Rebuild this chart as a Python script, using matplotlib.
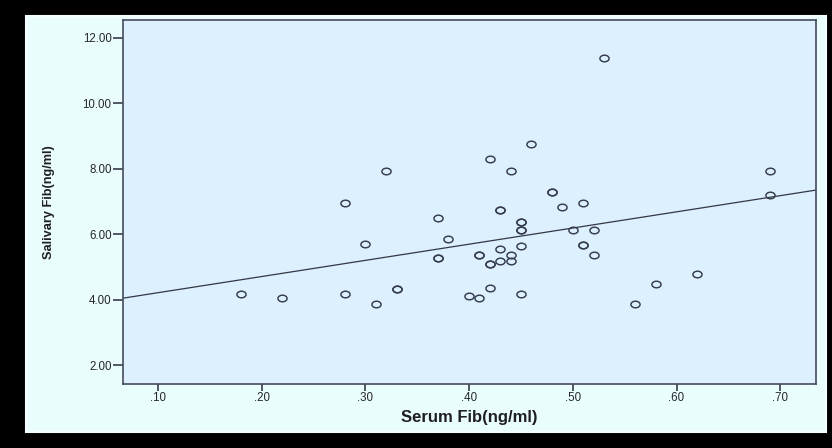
import numpy as np
import matplotlib
matplotlib.use("Agg")
from matplotlib import pyplot as plt
from matplotlib.path import Path
from matplotlib.patches import Rectangle

# Serum vs salivary fibronectin (ng/ml)
serum_fib = [0.18, 0.22, 0.28, 0.28, 0.30, 0.31, 0.32, 0.33, 0.33, 0.37,
             0.37, 0.37, 0.38, 0.40, 0.41, 0.41, 0.41, 0.42, 0.42, 0.42,
             0.42, 0.43, 0.43, 0.43, 0.43, 0.44, 0.44, 0.44, 0.45, 0.45,
             0.45, 0.45, 0.45, 0.45, 0.46, 0.48, 0.48, 0.49, 0.50, 0.51,
             0.51, 0.51, 0.52, 0.52, 0.53, 0.56, 0.58, 0.62, 0.69, 0.69]
salivary_fib = [4.19, 4.07, 6.97, 4.19, 5.71, 3.89, 7.93, 4.33, 4.33, 6.50,
                5.27, 5.27, 5.86, 4.12, 4.07, 5.37, 5.37, 8.31, 4.38, 5.09,
                5.09, 5.55, 5.19, 6.75, 6.75, 7.93, 5.38, 5.19, 6.37, 6.37,
                6.13, 6.13, 5.66, 4.19, 8.76, 7.30, 7.30, 6.85, 6.13, 6.97,
                5.68, 5.68, 6.15, 5.38, 11.38, 3.89, 4.48, 4.79, 7.93, 7.21]

x_ticks = [0.10, 0.20, 0.30, 0.40, 0.50, 0.60, 0.70]
y_ticks = [2.0, 4.0, 6.0, 8.0, 10.0, 12.0]

TEXT_COLOR = "#26262e"
EDGE_COLOR = "#363c4a"


def main():
  plt.rcParams["font.family"] = ["Liberation Sans", "DejaVu Sans"]

  fig = plt.figure(figsize=(8.32, 4.48), dpi=100, facecolor="black")
  # light panel behind the chart, black frame around it
  fig.patches.append(Rectangle((26 / 832, 16 / 448), 800 / 832, 416 / 448,
                               transform=fig.transFigure, facecolor="#eafdfd",
                               edgecolor="#f6ffff", linewidth=1.5, zorder=-5))

  ax = fig.add_axes([0.1475, 0.1429, 0.8333, 0.8125])
  ax.set_facecolor("#dcf0fe")

  circ = Path.unit_circle()
  ellipse = Path(circ.vertices * np.array([1.0, 0.72]), circ.codes)

  x = np.array(serum_fib)
  y = np.array(salivary_fib)
  ax.plot(x, y, linestyle="none", marker=ellipse, markersize=6.6,
          markerfacecolor="none", markeredgecolor=EDGE_COLOR,
          markeredgewidth=1.05, zorder=3)

  # linear fit line across the whole x range
  slope, intercept = np.polyfit(x, y, 1)
  xlim = (0.066, 0.7345)
  xs = np.array(xlim)
  ax.plot(xs, intercept + slope * xs, color="#333842", linewidth=0.9, zorder=2)

  ax.set_xlim(*xlim)
  ax.set_ylim(1.435, 12.55)
  ax.set_xticks(x_ticks)
  ax.set_xticklabels([f"{v:.2f}".lstrip("0") for v in x_ticks])
  ax.set_yticks(y_ticks)
  ax.set_yticklabels([f"{v:.2f}" for v in y_ticks])

  ax.tick_params(axis="x", length=5, width=1.2, color=EDGE_COLOR,
                 labelsize=8.3, labelcolor=TEXT_COLOR, pad=1)
  ax.tick_params(axis="y", length=7, width=1.2, color=EDGE_COLOR,
                 labelsize=8.3, labelcolor=TEXT_COLOR, pad=1)
  for s in ax.spines.values():
    s.set_color("#454b5e")
    s.set_linewidth(1.2)

  ax.set_xlabel("Serum Fib(ng/ml)", fontsize=12, fontweight="bold",
                color="#1e1e24", labelpad=4)
  ax.set_ylabel("Salivary Fib(ng/ml)", fontsize=9.2, fontweight="bold",
                color="#1e1e24")
  ax.yaxis.set_label_coords(-0.0977, 0.5)

  fig.savefig("out.png", dpi=100, facecolor="black")


if __name__ == "__main__":
  main()
